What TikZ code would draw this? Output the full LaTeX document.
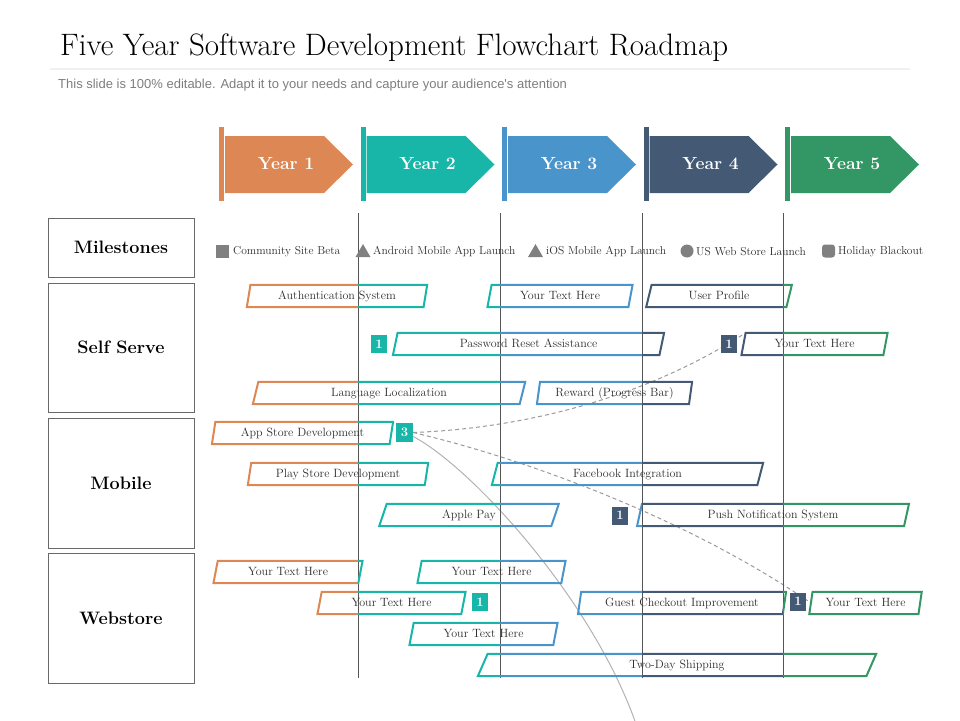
\documentclass[tikz,border=0pt]{standalone}
\usepackage{fontspec}
\usepackage{tikz}
\usetikzlibrary{
    shapes.geometric,
    positioning,
    calc,
    backgrounds
}
\newfontfamily\subfont{Liberation Sans}
\definecolor{yone}{RGB}{221,135,84}
\definecolor{ytwo}{RGB}{23,182,168}
\definecolor{ythree}{RGB}{74,148,204}
\definecolor{yfour}{RGB}{67,89,116}
\definecolor{yfive}{RGB}{50,151,101}
\definecolor{gridgray}{RGB}{85,85,85}
\definecolor{boxgray}{RGB}{105,105,105}
\definecolor{icongray}{RGB}{128,128,128}
\definecolor{textgray}{RGB}{45,45,45}
\definecolor{subgray}{RGB}{125,125,125}

% one task bar, outline coloured by the year it runs through
\newcommand{\roadbar}[5]{%
    \node[taskbar, minimum width={(#3-#2)*1pt}] (#1) at ({(#2+#3)/2},#4) {#5};
    \foreach \barcol/\xa/\xb in {yone/0/358, ytwo/358/500, ythree/500/642, yfour/642/783, yfive/783/960}{
        \begin{scope}
            \clip (\xa,0) rectangle (\xb,720);
            \draw[\barcol, line width=2] (#1.bottom left corner) -- (#1.top left corner) -- (#1.top right corner) -- (#1.bottom right corner) -- cycle;
        \end{scope}
    }%
}

\begin{document}
\begin{tikzpicture}[
        x=1pt, y=-1pt,
        taskbar/.style={trapezium, trapezium left angle=77, trapezium right angle=103, trapezium stretches=true, minimum height=22, inner sep=0, text height=8.5, text depth=2, text=textgray, font=\fontsize{12}{13}\selectfont},
        numtag/.style={rectangle, inner sep=0, minimum width=16, minimum height=18, text=white, font=\bfseries\fontsize{13}{14}\selectfont},
        lanebox/.style={rectangle, draw=boxgray, line width=1, minimum width=146, font=\bfseries\fontsize{18}{20}\selectfont},
        legtext/.style={anchor=west, inner sep=0, text=textgray, font=\fontsize{11.5}{13}\selectfont},
        yeartext/.style={text=white, font=\bfseries\fontsize{17.5}{19}\selectfont},
        gridline/.style={gridgray, line width=1},
        link/.style={icongray!80, line width=1, dash pattern=on 4 off 3},
        swoop/.style={gray!60, line width=1}
    ]
        \useasboundingbox (0,0) rectangle (960,720);

        % Title and subtitle
        \node[anchor=base west, inner sep=0, font=\fontsize{31}{34}\selectfont] (title) at (60,55) {Five Year Software Development Flowchart Roadmap};
        \draw[gray!12, line width=2] (50,69) -- (910,69);
        \node[anchor=base west, inner sep=0, text=subgray, font=\subfont\fontsize{13}{15}\selectfont] (subtitle) at (58,88) {This slide is 100\% editable. Adapt it to your needs and capture your audience's attention};

        % Year arrows
        \foreach \i/\c in {1/yone, 2/ytwo, 3/ythree, 4/yfour, 5/yfive}{
            \pgfmathsetmacro\xs{219+141.5*(\i-1)}
            \fill[\c] (\xs,127) rectangle (\xs+5,201);
            \fill[\c] (\xs+6,136) -- (\xs+105,136) -- (\xs+134,164.5) -- (\xs+105,193) -- (\xs+6,193) -- cycle;
            \node[yeartext] (yr\i) at (\xs+67,164) {Year \i};
        }

        % Year separators
        \foreach \x in {358,500,642,783}
            \draw[gridline] (\x,213) -- (\x,678);

        % Lane labels
        \node[lanebox, minimum height=59] (milestones) at (121,247.5) {Milestones};
        \node[lanebox, minimum height=129] (selfserve) at (121,347.5) {Self Serve};
        \node[lanebox, minimum height=130] (mobile) at (121,483) {Mobile};
        \node[lanebox, minimum height=130] (webstore) at (121,618) {Webstore};

        % Milestone legend
        \node[rectangle, fill=icongray, inner sep=0, minimum size=13] (legsquare) at (222.5,251) {};
        \node[legtext] (legbeta) at (233,252) {Community Site Beta};
        \node[regular polygon, regular polygon sides=3, fill=icongray, inner sep=0, minimum size=17.3] (legandroid) at (363,252.7) {};
        \node[legtext] (legandroidtxt) at (373,252) {Android Mobile App Launch};
        \node[regular polygon, regular polygon sides=3, fill=icongray, inner sep=0, minimum size=17.3] (legios) at (535.5,252.7) {};
        \node[legtext] (legiostxt) at (546,252) {iOS Mobile App Launch};
        \node[circle, fill=icongray, inner sep=0, minimum size=13] (legus) at (687,251) {};
        \node[legtext] (legustxt) at (696,252) {US Web Store Launch};
        \node[rectangle, rounded corners=3, fill=icongray, inner sep=0, minimum size=13] (legholiday) at (828.5,251) {};
        \node[legtext] (legholidaytxt) at (838,252) {Holiday Blackout};

        % Self Serve
        \roadbar{auth}{247}{427}{296}{Authentication System}
        \roadbar{ytone}{487}{633}{296}{Your Text Here}
        \roadbar{uprof}{646}{792}{296}{User Profile}
        \roadbar{pwreset}{393}{664}{344}{Password Reset Assistance}
        \roadbar{ytfour}{741}{888}{344}{Your Text Here}
        \roadbar{langloc}{253}{525}{393}{Language Localization}
        \roadbar{reward}{537}{692}{393}{Reward (Progress Bar)}

        % Mobile
        \roadbar{appstore}{212}{393}{433}{App Store Development}
        \roadbar{playstore}{248}{428}{474}{Play Store Development}
        \roadbar{fbint}{492}{763}{474}{Facebook Integration}
        \roadbar{applepay}{379}{559}{515}{Apple Pay}
        \roadbar{pushnote}{637}{909}{515}{Push Notification System}

        % Webstore
        \roadbar{wsone}{213}{363}{572}{Your Text Here}
        \roadbar{wstwo}{417}{566}{572}{Your Text Here}
        \roadbar{wsthree}{317}{466}{603}{Your Text Here}
        \roadbar{guest}{578}{786}{603}{Guest Checkout Improvement}
        \roadbar{wsgreen}{809}{922}{603}{Your Text Here}
        \roadbar{wsfour}{409}{558}{634}{Your Text Here}
        \roadbar{twoday}{478}{876}{665}{Two-Day Shipping}

        % Number tags
        \node[numtag, fill=ytwo] (tagpw) at (379,344) {1};
        \node[numtag, fill=yfour] (tagyt) at (729,344) {1};
        \node[numtag, fill=ytwo, minimum width=17, minimum height=19] (tagapp) at (404.5,432.5) {3};
        \node[numtag, fill=yfour] (tagpush) at (620,515.5) {1};
        \node[numtag, fill=ytwo] (tagws) at (480,602) {1};
        \node[numtag, fill=yfour] (tagguest) at (798,601.5) {1};

        % Links from the app store tag
        \coordinate (swoopend) at (636,724);
        \begin{scope}[on background layer]
            \draw[link] (tagapp.east) .. controls (530,428) and (650,395) .. (ytfour.top left corner);
            \draw[link] (tagapp.east) .. controls (530,460) and (690,520) .. (wsgreen.west);
            \draw[swoop] (tagapp.-25) .. controls (470,466) and (592,598) .. (swoopend);
        \end{scope}
    \end{tikzpicture}
\end{document}
